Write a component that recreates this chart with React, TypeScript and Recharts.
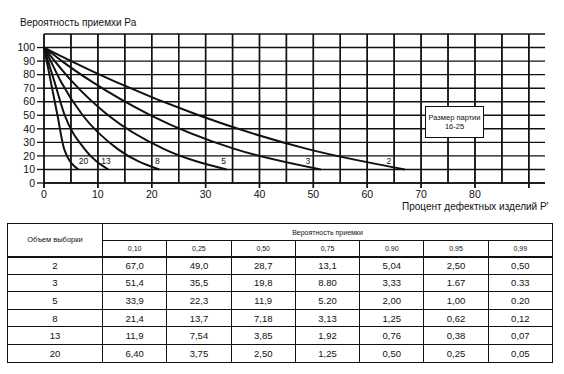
import React from 'react';
import { LineChart, Line, XAxis, YAxis, CartesianGrid } from 'recharts';

// Объем выборки (sample sizes) and acceptance probabilities
const sampleSizes = [2, 3, 5, 8, 13, 20];
const acceptProb = ['0,10', '0,25', '0,50', '0,75', '0.90', '0.95', '0,99'];
const paValues = [10, 25, 50, 75, 90, 95, 99];

// Процент дефектных изделий for each sample size (table rows)
const row2 = ['67,0', '49,0', '28,7', '13,1', '5,04', '2,50', '0,50'];
const row3 = ['51,4', '35,5', '19,8', '8.80', '3,33', '1.67', '0.33'];
const row5 = ['33,9', '22,3', '11,9', '5.20', '2,00', '1,00', '0.20'];
const row8 = ['21,4', '13,7', '7,18', '3,13', '1,25', '0,62', '0,12'];
const row13 = ['11,9', '7,54', '3,85', '1,92', '0,76', '0,38', '0,07'];
const row20 = ['6,40', '3,75', '2,50', '1,25', '0,50', '0,25', '0,05'];
const rows = [row2, row3, row5, row8, row13, row20];

const yTicks = [0, 10, 20, 30, 40, 50, 60, 70, 80, 90, 100];
const xGrid = [0, 5, 10, 15, 20, 25, 30, 35, 40, 45, 50, 55, 60, 65, 70, 75, 80, 85, 90];
const xDomain = [0, 93];
const yDomain = [0, 110];

const num = (s: string) => parseFloat(s.replace(',', '.'));

// curve points: (0, 100) then the table values, ordered by p
const curves = rows.map((r) => {
  const pts = r.map((s, i) => ({ p: num(s), pa: paValues[i] }));
  pts.push({ p: 0, pa: 100 });
  return pts.sort((a, b) => a.p - b.p);
});

// label offset (px) from curve end, per sample size
const labelDx = [-16, -13, -3, -2, -2, 5];

const font = '"Liberation Sans", Arial, sans-serif';
const chartW = 564;
const chartH = 215;
const margin = { top: 34, right: 19, left: 0, bottom: 0 };
const yAxisW = 44;
const xAxisH = 32;
const plotLeft = margin.left + yAxisW;
const plotW = chartW - margin.right - plotLeft;
const plotBottom = chartH - margin.bottom - xAxisH;
const xPix = (v: number) => plotLeft + ((v - xDomain[0]) / (xDomain[1] - xDomain[0])) * plotW;

// each x tick: tick mark and label every 10 %
const XTick = (props: any) => {
  const { x, payload } = props;
  const v = payload.value;
  const major = v % 10 === 0;
  return (
    <g>
      <line x1={x} x2={x} y1={margin.top} y2={plotBottom + (major ? 5 : 0)} stroke="#111" strokeWidth={1.4} />
      {major && v !== 90 && (
        <text x={x} y={plotBottom + 7} dy="0.75em" textAnchor="middle" fontSize={10.5} fill="#111" fontFamily={font}>
          {v}
        </text>
      )}
    </g>
  );
};

const cell: React.CSSProperties = {
  border: '1px solid #111',
  textAlign: 'center',
  padding: 0,
};

export default function App() {
  return (
    <div style={{ position: 'absolute', left: 0, top: 0, width: 564, height: 374, fontFamily: font, color: '#111' }}>
      <div style={{ position: 'absolute', left: 20, top: 17, fontSize: 10 }}>Вероятность приемхи Ра</div>
      <div style={{ position: 'absolute', left: 402, top: 201, fontSize: 10 }}>Процент дефектных изделий Р'</div>
      <LineChart width={chartW} height={chartH} margin={margin}>
        <CartesianGrid stroke="#111" strokeWidth={1.4} vertical={false} fill="none" />
        <XAxis
          type="number"
          dataKey="p"
          domain={xDomain}
          ticks={xGrid}
          interval={0}
          height={xAxisH}
          tickSize={0}
          tickMargin={0}
          tick={<XTick />}
          axisLine={{ stroke: '#111', strokeWidth: 1.5 }}
          tickLine={false}
        />
        <YAxis
          type="number"
          domain={yDomain}
          ticks={yTicks}
          interval={0}
          width={yAxisW}
          tickSize={7}
          tickMargin={2}
          axisLine={false}
          tick={{ fontSize: 10.5, fill: '#111', fontFamily: font }}
          tickLine={{ stroke: '#111', strokeWidth: 1.3 }}
        />
        {curves.map((pts, k) => (
          <Line
            key={sampleSizes[k]}
            data={pts}
            dataKey="pa"
            type="monotone"
            stroke="#111"
            strokeWidth={2}
            dot={false}
            isAnimationActive={false}
            label={(props: any) => {
              const { x, y, index } = props;
              if (index !== pts.length - 1) return <g key={index} />;
              return (
                <text key={index} x={x + labelDx[k]} y={y - 5} textAnchor="middle" fontSize={8.5} fill="#111" fontFamily={font}>
                  {sampleSizes[k]}
                </text>
              );
            }}
          />
        ))}
      </LineChart>
      {/* vertical grid every 5 % */}
      <svg width={chartW} height={chartH} style={{ position: 'absolute', left: 0, top: 0, pointerEvents: 'none' }}>
        {xGrid.map((v) => (
          <line
            key={v}
            x1={xPix(v)}
            x2={xPix(v)}
            y1={margin.top}
            y2={plotBottom + (v % 10 === 0 ? 5 : 0)}
            stroke="#111"
            strokeWidth={1.4}
          />
        ))}
      </svg>
      <div
        style={{
          position: 'absolute',
          left: 425,
          top: 106,
          width: 57,
          height: 24,
          border: '1.5px solid #111',
          background: '#fff',
          fontSize: 7.5,
          lineHeight: '9px',
          textAlign: 'center',
          paddingTop: 6,
          boxSizing: 'content-box',
        }}
      >
        Размер партии
        <br />
        16-25
      </div>
      <table
        style={{
          position: 'absolute',
          left: 7,
          top: 223,
          width: 546,
          borderCollapse: 'collapse',
          tableLayout: 'fixed',
          fontFamily: font,
        }}
      >
        <colgroup>
          <col style={{ width: 95 }} />
          {acceptProb.map((a) => (
            <col key={a} />
          ))}
        </colgroup>
        <thead>
          <tr style={{ height: 17 }}>
            <td rowSpan={2} style={{ ...cell, fontSize: 7.5, borderBottom: '2px solid #111' }}>Объем выборки</td>
            <td colSpan={7} style={{ ...cell, fontSize: 7 }}>Вероятность приемки</td>
          </tr>
          <tr style={{ height: 16 }}>
            {acceptProb.map((a) => (
              <td key={a} style={{ ...cell, fontSize: 7, borderBottom: '2px solid #111' }}>{a}</td>
            ))}
          </tr>
        </thead>
        <tbody>
          {rows.map((r, i) => (
            <tr key={sampleSizes[i]} style={{ height: 17.6 }}>
              <td style={{ ...cell, fontSize: 9.5 }}>{sampleSizes[i]}</td>
              {r.map((v, j) => (
                <td key={j} style={{ ...cell, fontSize: 9.5 }}>{v}</td>
              ))}
            </tr>
          ))}
        </tbody>
      </table>
    </div>
  );
}
